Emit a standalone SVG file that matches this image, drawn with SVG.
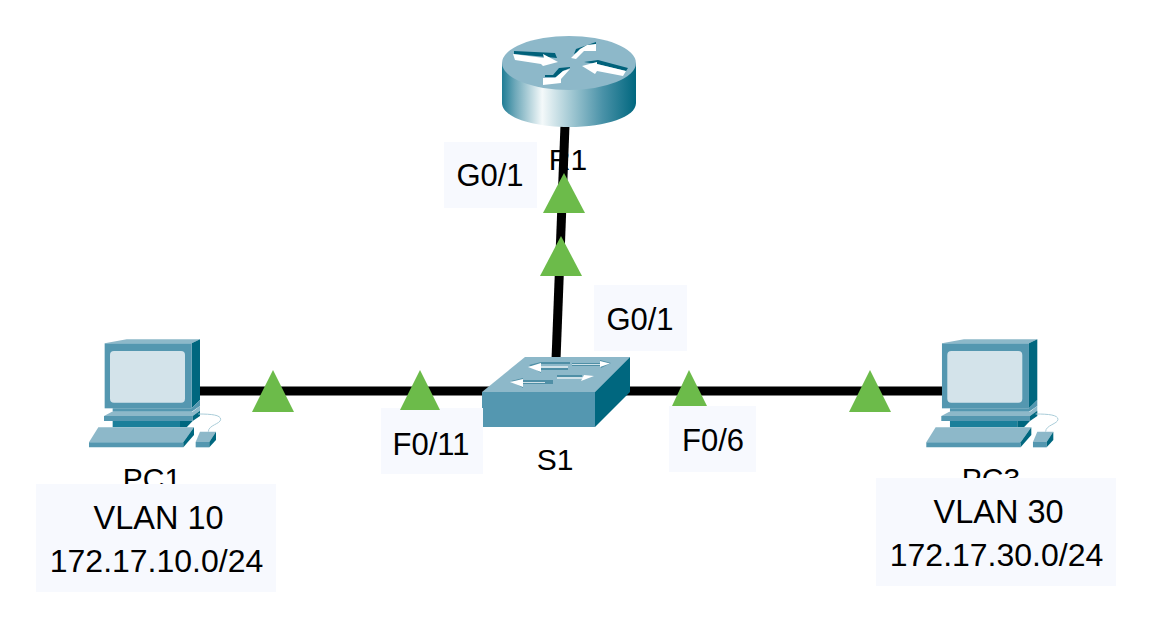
<svg xmlns="http://www.w3.org/2000/svg" width="1151" height="627" viewBox="0 0 1151 627">
<style>
.t{font-family:"Liberation Sans",Arial,sans-serif;font-size:31px;fill:#000;text-anchor:middle}
.n{font-size:30px}
.v{font-size:32.5px}
.a{font-size:32px}
.b{fill:#f7f9fe}
.l{stroke:#000;stroke-width:9;fill:none}
.g{fill:#6cbb4a}
.top{fill:#8db8c9}
.front{fill:#5497b0}
.side{fill:#00677f}
.mid{fill:#1b7f9a}
.w{fill:#fff}
.dk{fill:#00617a}
.pale{fill:#cfe1e8}
.sh{fill:#4f8fa6}
</style>
<defs>
<linearGradient id="rg" x1="0" x2="1" y1="0" y2="0">
<stop offset="0" stop-color="#1f7d95"/>
<stop offset=".1" stop-color="#6fa9ba"/>
<stop offset=".3" stop-color="#f4f9fa"/>
<stop offset=".5" stop-color="#a8ccd6"/>
<stop offset=".75" stop-color="#4a92a8"/>
<stop offset="1" stop-color="#00677f"/>
</linearGradient>
<g id="pc" transform="scale(.33333)">
<path class="top" d="M224 70L290 58H510L485 70Z"/>
<path class="side" d="M485 70L510 58V240L485 265Z"/>
<rect class="front" x="224" y="70" width="261" height="195"/>
<rect x="240" y="93" width="225" height="155" rx="12" fill="#d3e3ea"/>
<path class="front" d="M248 265H485L510 240V258L485 275H248Z"/>
<path class="top" d="M222 288L246 275H488L510 258V272L488 288Z"/>
<path class="front" d="M222 288H488V303H222Z"/>
<path class="side" d="M488 288L510 272V288L488 303Z"/>
<path class="mid" d="M248 303H450V322H248Z"/>
<path class="side" d="M450 303H488L470 322H450Z"/>
<path class="top" d="M205 322H492L460 367H177Z"/>
<path class="front" d="M177 367H460V382H177Z"/>
<path class="side" d="M460 367L492 322V345L460 382Z"/>
<path fill="none" stroke="#a9ccd8" stroke-width="3" d="M505 282C545 282 572 285 572 298C572 312 535 315 535 335"/>
<path class="top" d="M510 335H558L538 366H497Z"/>
<path class="front" d="M497 366H538V382H497Z"/>
<path class="side" d="M538 366L558 335V360L538 382Z"/>
</g>
</defs>

<g id="connectors">
<path class="l" d="M565 125L556 360"/>
<path class="l" d="M198 391H490"/>
<path class="l" d="M625 391H948"/>
</g>

<g id="R1">
<path fill="url(#rg)" d="M502 63V103C502 117 532 127 569 127C606 127 636 117 636 103V63Z"/>
<ellipse class="top" cx="569" cy="63" rx="67" ry="27"/>
<path class="dk" d="M514 51L555 53L557 58L514 54Z"/>
<path class="w" d="M513 54L544 58L543 54L558 62L543 66L541 64L515 60Z"/>
<path class="dk" d="M576 49L596 42V44L574 54Z"/>
<path class="w" d="M571 58L580 49L587 45L596 44V51L584 51L576 59Z"/>
<path class="dk" d="M584 62L598 60L628 68L626 71L597 64Z"/>
<path class="w" d="M582 66L597 62L597 64L626 71L623 76L597 71L595 74Z"/>
<path class="dk" d="M545 75H553L559 68L570 67V68L563 71L556 77H545Z"/>
<path class="w" d="M543 78H555L563 71L570 69L561 79V83L543 85Z"/>
<text class="t n" x="568" y="170">R1</text>
</g>

<g id="S1">
<path class="top" d="M482 392L525 357H630L595 392Z"/>
<rect class="front" x="482" y="392" width="113" height="35"/>
<path class="side" d="M595 392L630 357V392L595 427Z"/>
<path class="sh" d="M529 365L541 362H570V364H541V366H568V370H541V373Z"/>
<path class="pale" d="M541 366H568V368H541Z"/>
<path class="w" d="M528 367L541 363V372Z"/>
<path class="sh" d="M572 363H600V360L611 363L601 368V366H572Z"/>
<path class="pale" d="M572 364H600V365H572Z"/>
<path class="w" d="M600 361L610 363.500L600 367Z"/>
<path class="sh" d="M511 381L523 378V380H553V384H523V388Z"/>
<path class="pale" d="M523 382H545V383H523Z"/>
<path class="w" d="M510 382L523 379V387Z"/>
<path class="sh" d="M557 375H582V378H557Z"/>
<path class="pale" d="M557 377H583V379H557Z"/>
<path class="w" d="M581 381L584 375L594 376Z"/>
<text class="t n" x="555" y="470">S1</text>
</g>

<g id="PC1">
<use href="#pc" transform="translate(30,320)"/>
<text class="t n" x="152" y="489">PC1</text>
</g>

<g id="PC3">
<use href="#pc" transform="translate(867.3,320)"/>
<text class="t n" x="991" y="489">PC3</text>
</g>

<g id="labels">
<g id="label-r1-g01"><rect class="b" x="444" y="142" width="93" height="66"/><text class="t" x="490" y="186">G0/1</text></g>
<g id="label-s1-g01"><rect class="b" x="594" y="285" width="93" height="66"/><text class="t" x="640" y="330">G0/1</text></g>
<g id="label-f011"><rect class="b" x="381" y="408" width="102" height="66"/><text class="t" x="431" y="455">F0/11</text></g>
<g id="label-f06"><rect class="b" x="669" y="406" width="87" height="66"/><text class="t" x="713" y="451">F0/6</text></g>
<g id="label-vlan10"><rect class="b" x="36" y="484" width="240" height="108"/><text class="t v" x="158.500" y="529">VLAN 10</text><text class="t a" x="156.500" y="572">172.17.10.0/24</text></g>
<g id="label-vlan30"><rect class="b" x="876" y="478" width="240" height="108"/><text class="t v" x="998.500" y="523">VLAN 30</text><text class="t a" x="996.500" y="566">172.17.30.0/24</text></g>
</g>

<g id="link-lights">
<path class="g" d="M564 173L585 213H543Z"/>
<path class="g" d="M561 236L582 276H540Z"/>
<path class="g" d="M273 370L294 412H252Z"/>
<path class="g" d="M420 370L440 410H400Z"/>
<path class="g" d="M689 370L707 406H672Z"/>
<path class="g" d="M870 370L891 412H849Z"/>
</g>
</svg>
